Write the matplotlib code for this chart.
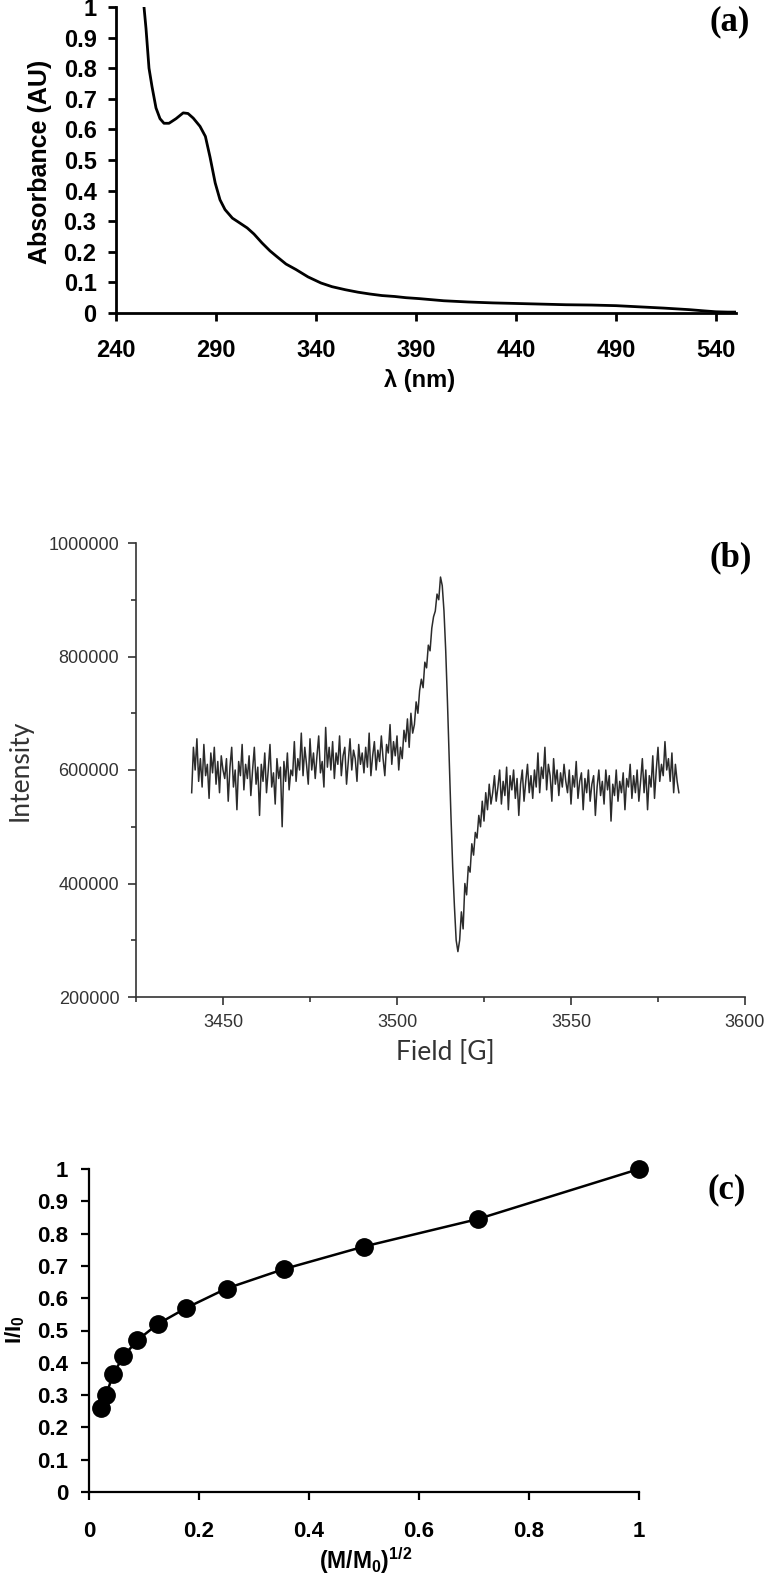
"""Three-panel figure: UV-vis absorbance, EPR spectrum, saturation curve."""
import matplotlib
matplotlib.use("Agg")
import matplotlib.pyplot as plt
import numpy as np
from matplotlib.ticker import MultipleLocator, FormatStrFormatter

plt.rcParams["mathtext.fontset"] = "custom"
plt.rcParams["mathtext.rm"] = "Liberation Sans:bold"
plt.rcParams["mathtext.bf"] = "Liberation Sans:bold"

# (a) UV-vis absorbance
wavelength = [254, 255, 256.5, 258, 260, 262, 264, 266.5, 270, 273.6, 276, 278.6, 282,
              284.7, 287, 289.6, 292, 294.5, 298.2, 301, 305.6, 309, 313, 317, 320.3,
              325, 330, 336, 342.5, 348, 354.7, 361, 367, 373, 379.3, 385, 391.6,
              403.9, 416, 428.5, 441, 453, 465, 477.6, 490, 502, 514, 526.5, 534,
              540, 546, 550]
absorbance = [1.0, 0.93, 0.80, 0.74, 0.67, 0.635, 0.62, 0.62, 0.635, 0.654, 0.652, 0.637,
              0.61, 0.577, 0.51, 0.425, 0.37, 0.338, 0.31, 0.298, 0.278, 0.258, 0.229,
              0.203, 0.185, 0.16, 0.142, 0.118, 0.098, 0.086, 0.076, 0.068, 0.062, 0.057,
              0.054, 0.050, 0.047, 0.040, 0.036, 0.033, 0.031, 0.029, 0.027, 0.026, 0.024,
              0.020, 0.016, 0.011, 0.007, 0.004, 0.003, 0.003]
wl_ticks = [240, 290, 340, 390, 440, 490, 540]

# (b) EPR spectrum, intensity in thousands, sampled every 0.5 G from 3441 to 3581 G
epr_intensity_k = [
    560, 640, 600, 655, 580, 620, 570, 645, 590, 610, 550, 630, 595, 640, 575, 615, 560, 625, 600, 585,
    620, 545, 605, 640, 570, 600, 530, 615, 590, 645, 565, 610, 585, 625, 555, 600, 640, 575, 605, 520,
    610, 580, 630, 560, 600, 645, 570, 595, 540, 620, 585, 605, 500, 615, 580, 630, 565, 600, 590, 650,
    580, 620, 600, 665, 590, 640, 610, 575, 655, 600, 630, 585, 625, 660, 595, 615, 570, 675, 605, 640,
    600, 650, 585, 630, 610, 660, 590, 625, 640, 575, 615, 655, 600, 635, 620, 580, 645, 610, 630, 595,
    640, 605, 665, 590, 625, 650, 600, 635, 615, 660, 620, 590, 645, 630, 680, 610, 650, 625, 660, 600,
    640, 620, 670, 650, 690, 640, 700, 665, 680, 720, 700, 740,
    760, 745, 790, 780, 820, 810, 850, 870, 880, 910, 900, 940,
    925, 880, 810, 720, 620, 520, 430, 360, 300, 280,
    300, 350, 320, 400, 380, 430, 420, 470, 450, 490,
    480, 520, 500, 545, 510, 560, 530, 575, 540, 560, 590, 545,
    570, 600, 540, 580, 555, 605, 530, 590, 565, 600, 550, 585, 520, 575, 600, 545, 580, 610, 560, 590,
    550, 600, 570, 630, 560, 605, 585, 640, 565, 610, 590, 545, 620, 575, 600, 555, 595, 570, 610, 580,
    560, 600, 540, 590, 570, 615, 550, 580, 595, 530, 585, 560, 600, 545, 575, 590, 520, 570, 600, 555,
    580, 540, 600, 565, 590, 510, 575, 555, 600, 545, 580, 560, 595, 530, 585, 570, 610, 550, 590, 560,
    600, 545, 580, 620, 560, 600, 530, 590, 570, 625, 550, 600, 640, 580, 610, 590, 650, 600, 620, 580,
    630, 560, 610, 580, 560]
field = np.linspace(3441, 3581, len(epr_intensity_k))

# (c) I/I0 vs sqrt(M/M0)
sqrt_m = [0.022, 0.031, 0.044, 0.0625, 0.088, 0.125, 0.177, 0.25, 0.354, 0.5, 0.707, 1.0]
i_ratio = [0.26, 0.30, 0.365, 0.42, 0.47, 0.52, 0.57, 0.63, 0.69, 0.76, 0.845, 1.0]

W, H = 776, 1580
fig = plt.figure(figsize=(W / 100, H / 100), dpi=100)


def frac(left, top, right, bottom):
    return [left / W, 1 - bottom / H, (right - left) / W, (bottom - top) / H]


def ftext(x, y, s, **kw):
    fig.text(x / W, 1 - y / H, s, ha="center", va="center", **kw)


bold = dict(family="Liberation Sans", weight="bold")
serif_bold = dict(family="Liberation Serif", weight="bold", size=25)

# ---- (a)
ax1 = fig.add_axes(frac(116, 7, 736, 313))
ax1.plot(wavelength, absorbance, color="black", lw=2)
ax1.set_xlim(240, 550)
ax1.set_ylim(0, 1)
ax1.set_xticks(wl_ticks)
ax1.yaxis.set_major_locator(MultipleLocator(0.1))
ax1.yaxis.set_major_formatter(FormatStrFormatter("%g"))
for s in ["top", "right"]:
    ax1.spines[s].set_visible(False)
for s in ["left", "bottom"]:
    ax1.spines[s].set_linewidth(2)
ax1.tick_params(direction="out", width=2, length=6)
ax1.tick_params(axis="x", pad=13)
ax1.tick_params(axis="y", pad=8)
for lab in ax1.get_xticklabels() + ax1.get_yticklabels():
    lab.set_fontproperties(dict(bold, size=17))
ftext(40, 162, "Absorbance (AU)", rotation=90, fontsize=18, **bold)
ftext(420, 381, "λ (nm)", fontsize=17, **bold)
ftext(730, 22, "(a)", **serif_bold)

# ---- (b)
grey = "#333333"
ax2 = fig.add_axes(frac(136, 543, 745, 997))
ax2.plot(field, np.array(epr_intensity_k) * 1000, color="#2b2b2b", lw=1.1)
ax2.set_xlim(3425, 3600)
ax2.set_ylim(200000, 1000000)
ax2.xaxis.set_major_locator(MultipleLocator(50))
ax2.xaxis.set_minor_locator(MultipleLocator(25))
ax2.yaxis.set_major_locator(MultipleLocator(200000))
ax2.yaxis.set_minor_locator(MultipleLocator(100000))
ax2.yaxis.set_major_formatter(FormatStrFormatter("%d"))
for s in ["top", "right"]:
    ax2.spines[s].set_visible(False)
for s in ["left", "bottom"]:
    ax2.spines[s].set_color(grey)
    ax2.spines[s].set_linewidth(1.2)
ax2.tick_params(which="both", direction="out", color=grey, labelcolor=grey, width=1.2)
ax2.tick_params(which="major", length=6, labelsize=13)
ax2.tick_params(which="minor", length=3.5)
ax2.tick_params(axis="x", which="major", pad=6)
ax2.tick_params(axis="y", which="major", pad=6)
for lab in ax2.get_xticklabels() + ax2.get_yticklabels():
    lab.set_family("Liberation Sans")
ftext(20, 770, "Intensity", rotation=90, fontsize=19, color=grey, family="Lato")
ftext(445, 1052, "Field [G]", fontsize=19, color=grey, family="Lato")
ftext(731, 558, "(b)", **serif_bold)

# ---- (c)
ax3 = fig.add_axes(frac(89, 1169, 639, 1492))
ax3.plot(sqrt_m, i_ratio, color="black", lw=1.8, marker="o", ms=12.5,
         markerfacecolor="black", clip_on=False)
ax3.set_xlim(0, 1)
ax3.set_ylim(0, 1)
ax3.xaxis.set_major_locator(MultipleLocator(0.2))
ax3.yaxis.set_major_locator(MultipleLocator(0.1))
ax3.xaxis.set_major_formatter(FormatStrFormatter("%g"))
ax3.yaxis.set_major_formatter(FormatStrFormatter("%g"))
for s in ["top", "right"]:
    ax3.spines[s].set_visible(False)
for s in ["left", "bottom"]:
    ax3.spines[s].set_linewidth(1.6)
ax3.tick_params(direction="out", width=1.6, length=6)
ax3.tick_params(axis="x", pad=15)
ax3.tick_params(axis="y", pad=9)
for lab in ax3.get_xticklabels() + ax3.get_yticklabels():
    lab.set_fontproperties(dict(bold, size=16))
ftext(366, 1561, r"(M/M$_\mathbf{0}$)$^{\mathbf{1/2}}$", fontsize=16.5, **bold)
ftext(15, 1330, r"I/I$_\mathbf{0}$", rotation=90, fontsize=16, **bold)
ftext(727, 1190, "(c)", **serif_bold)

fig.savefig("out.png", dpi=100)
